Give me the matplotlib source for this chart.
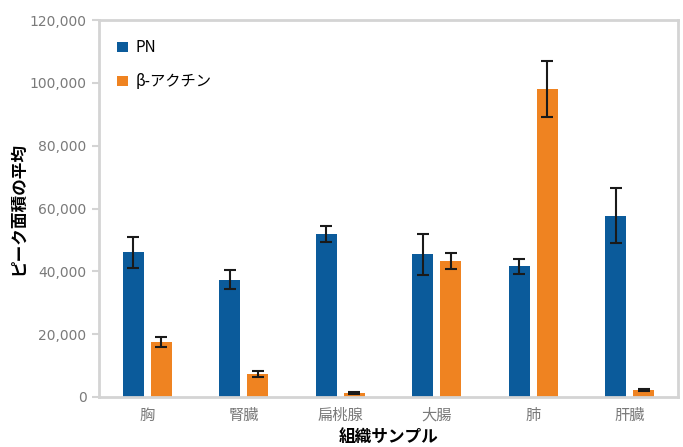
import matplotlib
matplotlib.use("Agg")
import matplotlib.pyplot as plt
import numpy as np

plt.rcParams['font.family'] = ['Noto Sans CJK JP', 'DejaVu Sans']

categories = ['胸', '腎臓', '扁桃腺', '大腸', '肺', '肝臓']
pn_values = [46000, 37300, 51900, 45400, 41600, 57700]
pn_errors = [5000, 3000, 2500, 6500, 2400, 8700]
actin_values = [17500, 7300, 1300, 43300, 98100, 2300]
actin_errors = [1500, 900, 300, 2600, 8900, 400]
series_names = ['PN', 'β-アクチン']
yticks = [0, 20000, 40000, 60000, 80000, 100000, 120000]

blue = '#0b5b9b'
orange = '#ef8321'
grid_gray = '#d4d4d4'
text_gray = '#7a7a7a'

fig = plt.figure(figsize=(6.83, 4.47), dpi=100)
ax = fig.add_axes([99/683, 1-397/447, (678-99)/683, (397-20)/447])

x = np.arange(len(categories))
w = 0.22
off = 0.145
ekw = dict(ecolor='#1a1a1a', elinewidth=1.5, capsize=4, capthick=1.5)
ax.bar(x - off, pn_values, w, color=blue, yerr=pn_errors, error_kw=ekw, label=series_names[0], zorder=2)
ax.bar(x + off, actin_values, w, color=orange, yerr=actin_errors, error_kw=ekw, label=series_names[1], zorder=2)

ax.set_xlim(-0.5, 5.5)
ax.set_ylim(0, 120000)
ax.set_yticks(yticks)
ax.set_yticklabels([f'{v:,}' for v in yticks], color=text_gray, fontsize=10, family=['DejaVu Sans'])
ax.set_xticks(x)
ax.set_xticklabels(categories, color=text_gray, fontsize=11)
ax.tick_params(axis='x', length=0, pad=7)
ax.tick_params(axis='y', length=5, width=1.5, color=grid_gray, pad=4)

for s in ax.spines.values():
    s.set_color(grid_gray)
    s.set_linewidth(2)

ax.set_ylabel('ピーク面積の平均', fontsize=12, fontweight='bold', labelpad=2)
ax.set_xlabel('組織サンプル', fontsize=12, fontweight='bold', labelpad=3)

leg = ax.legend(loc='upper left', bbox_to_anchor=(0.008, 0.985), frameon=False,
                fontsize=11, handlelength=0.7, handleheight=0.7, handletextpad=0.5,
                labelspacing=1.1)

fig.savefig('out.png', dpi=100)
